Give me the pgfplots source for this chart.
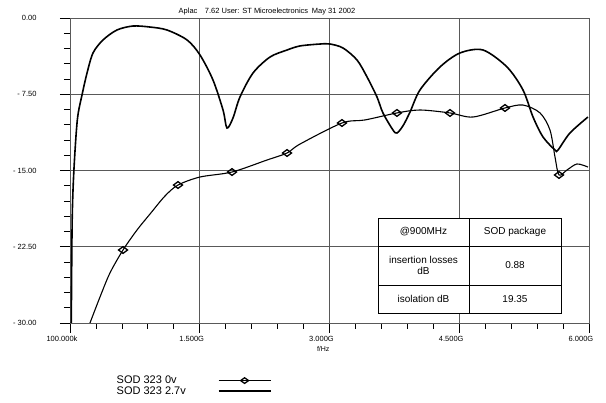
\documentclass[border=0pt]{standalone}
\usepackage{fontspec}
\setmainfont{Liberation Sans}
\usepackage{pgfplots}
\pgfplotsset{compat=1.18}
\begin{document}
\begin{tikzpicture}
\useasboundingbox (0pt,0pt) rectangle (606pt,403pt);
\begin{axis}[
  at={(70pt,80pt)}, anchor=south west,
  width=519pt, height=305pt, scale only axis,
  xmin=0, xmax=6, ymin=-30, ymax=0,
  xtick={0,1.5,3,4.5,6},
  xticklabels={100.000k,1.500G,3.000G,4.500G,6.000G},
  ytick={-30,-22.5,-15,-7.5,0},
  yticklabels={- 30.00,- 22.50,- 15.00,- 7.50,0.00},
  minor x tick num=4, minor y tick num=4,
  tick pos=left, tick align=outside,
  major tick length=10pt, minor tick length=6pt,
  tick style={black, line width=0.7pt},
  grid=major,
  major grid style={gray!70!black, line width=0.6pt},
  axis line style={gray!70!black, line width=0.8pt},
  xticklabel style={font=\fontsize{7.5}{8}\selectfont, xshift=-8pt},
  yticklabel style={font=\fontsize{7.5}{8}\selectfont, xshift=-20pt},
  xlabel={f/Hz},
  xlabel style={font=\fontsize{7}{8}\selectfont, at={(axis description cs:0.488,0)}, anchor=north, yshift=-20pt},
  legend plot pos=right,
  legend cell align=left,
  legend style={draw=none, fill=none, at={(axis description cs:0.08,-0.16)}, anchor=north west,
    font=\fontsize{11}{11}\selectfont, row sep=-2.5pt,
    /tikz/column 1/.style={column sep=30pt}},
]
% SOD 323 0v (with diamonds)
\addplot[black, line width=1.1pt, smooth,
  mark=diamond, mark size=4.5pt,
  mark options={solid, fill=white, rotate=90, line width=1.3pt},
  mark indices={4,8,10,12,14,16,18,20,25},
  legend image code/.code={
    \draw[black, line width=1.2pt] (0pt,0pt) -- (52pt,0pt);
    \draw[black, line width=1.3pt, fill=white] (22pt,0pt) -- (26pt,2.8pt) -- (30pt,0pt) -- (26pt,-2.8pt) -- cycle;
    \draw[black, line width=1.2pt] (22pt,0pt) -- (30pt,0pt);
  }] coordinates {
  (0.231,-30) (0.347,-27.44) (0.462,-25.08) (0.613,-22.82)
  (0.775,-20.85) (0.925,-19.28) (1.098,-17.51) (1.249,-16.43)
  (1.503,-15.64) (1.873,-15.15) (2.277,-13.97) (2.509,-13.28)
  (2.659,-12.4) (3.144,-10.33) (3.410,-10.03) (3.780,-9.34)
  (4.046,-9.05) (4.393,-9.34) (4.659,-9.74) (5.029,-8.85)
  (5.237,-8.56) (5.434,-9.34) (5.549,-11.02) (5.607,-13.67)
  (5.653,-15.44) (5.746,-14.95) (5.861,-14.36) (5.988,-14.66)
};
\addlegendentry{SOD 323 0v}
% SOD 323 2.7v
\addplot[black, line width=1.6pt, smooth,
  legend image code/.code={\draw[black, line width=1.6pt] (0pt,0pt) -- (52pt,0pt);}] coordinates {
  (0.015,-30) (0.025,-20) (0.045,-15) (0.085,-10) (0.139,-7.57)
  (0.197,-5.41) (0.266,-3.44) (0.382,-2.16) (0.543,-1.18)
  (0.728,-0.79) (0.925,-0.89) (1.121,-1.18) (1.353,-2.16)
  (1.503,-3.64) (1.653,-6.10) (1.769,-9.05) (1.815,-10.82)
  (1.884,-9.84) (1.965,-7.77) (2.116,-5.41) (2.312,-3.84)
  (2.509,-3.15) (2.659,-2.75) (2.890,-2.56) (3.006,-2.56)
  (3.156,-2.95) (3.318,-4.13) (3.434,-5.80) (3.549,-7.77)
  (3.618,-9.34) (3.734,-11.02) (3.780,-11.31) (3.850,-10.6)
  (3.931,-9.25) (4.046,-7.08)
  (4.277,-4.82) (4.509,-3.44) (4.775,-3.15) (5.052,-4.82)
  (5.237,-7.08) (5.353,-9.74) (5.468,-11.70) (5.607,-12.98)
  (5.642,-12.98) (5.780,-11.31) (5.988,-9.74)
};
\addlegendentry{SOD 323 2.7v}
\end{axis}
% header
\node[font=\fontsize{7.5}{8}\selectfont, anchor=base] at (267pt,389pt)
  {Aplac\quad 7.62 User: ST Microelectronics\enspace May 31 2002};
% table
\begin{scope}[line width=0.8pt, font=\fontsize{10}{11}\selectfont]
\draw[fill=white] (378pt,90pt) rectangle (561pt,185pt);
\draw (469pt,90pt) -- (469pt,185pt);
\draw (378pt,157pt) -- (561pt,157pt);
\draw (378pt,118pt) -- (561pt,118pt);
\node at (423.5pt,171pt) {@900MHz};
\node at (515pt,171pt) {SOD package};
\node[align=center] at (423.5pt,137.5pt) {insertion losses\\dB};
\node at (515pt,137.5pt) {0.88};
\node at (423.5pt,104pt) {isolation dB};
\node at (515pt,104pt) {19.35};
\end{scope}
\end{tikzpicture}
\end{document}
